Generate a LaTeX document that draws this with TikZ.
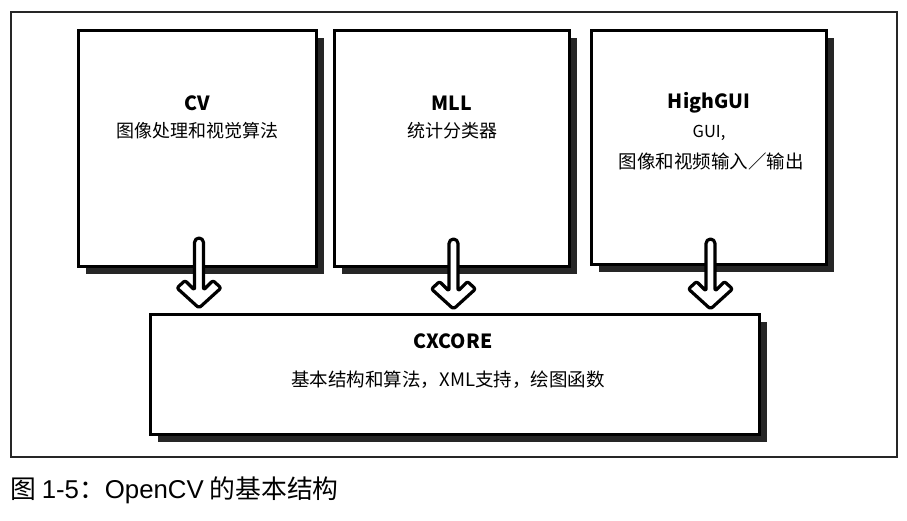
\documentclass[tikz,border=0pt]{standalone}
\usepackage{fontspec}
\setmainfont{Noto Sans CJK SC}
\newfontfamily\capfont{Liberation Sans}
\usetikzlibrary{calc,shadows}
\begin{document}
\begin{tikzpicture}[x=1pt,y=-1pt,
  box/.style={draw=black,line width=3pt,fill=white,inner sep=0pt,anchor=north west,
    drop shadow={shadow xshift=7pt,shadow yshift=-7pt,fill=black!85,opacity=1}},
  hollow/.style={draw=black,line width=3.2pt,fill=white,line join=round},
  ttl/.style={font=\fontsize{19.5}{22}\selectfont\bfseries,inner sep=0pt},
  txt/.style={font=\fontsize{18}{20}\selectfont,inner sep=0pt},
  hollowdn/.pic={
    \draw[hollow] (4.5,-45) [rounded corners=4.5pt] -- (4.5,-70) -- (-4.5,-70) -- (-4.5,-45)
      [rounded corners=2pt] -- (-4.5,-18) -- (-14,-27.5) -- (-22,-20) -- (0,0) -- (22,-20)
      -- (14,-27.5) -- (4.5,-18) -- cycle;
  }]
\useasboundingbox (0,0) rectangle (907,520);
\draw[line width=1.3pt,black!85] (11,12) rectangle (897,457);
% boxes
\node[box,minimum width=238,minimum height=236] (cv) at (77,29) {};
\node[box,minimum width=235,minimum height=236] (mll) at (333,29) {};
\node[box,minimum width=235,minimum height=234] (hg) at (590,29) {};
\node[box,minimum width=609,minimum height=120] (cx) at (149,313) {};
% texts
\node[ttl] (cvt) at (197,103) {CV};
\node[txt] (cvd) at (197,131) {图像处理和视觉算法};
\node[ttl] (mllt) at (452,103) {MLL};
\node[txt] (mlld) at (452,131) {统计分类器};
\node[ttl] (hgt) at (709,103) {HighGUI};
\node[txt,font=\fontsize{16.5}{20}\selectfont] (hgd1) at (709,133) {GUI,};
\node[txt,font=\fontsize{18.5}{20}\selectfont] (hgd2) at (711,161) {图像和视频输入／输出};
\node[ttl] (cxt) at (453,341) {CXCORE};
\node[txt,font=\fontsize{18.5}{20}\selectfont] (cxd) at (448,380) {基本结构和算法，XML支持，绘图函数};
% hollow arrows
\pic at ($(cv.south |- cx.north)+(1.5,-5)$) {hollowdn};
\pic at ($(mll.south |- cx.north)+(1.5,-4)$) {hollowdn};
\pic at ($(hg.south |- cx.north)+(1.5,-4)$) {hollowdn};
% caption
\node[anchor=west,inner sep=0pt,font=\fontsize{25.8}{28}\selectfont] (cap) at (10,490)
  {图 {\capfont 1-5}：{\capfont OpenCV} 的基本结构};
\end{tikzpicture}
\end{document}
